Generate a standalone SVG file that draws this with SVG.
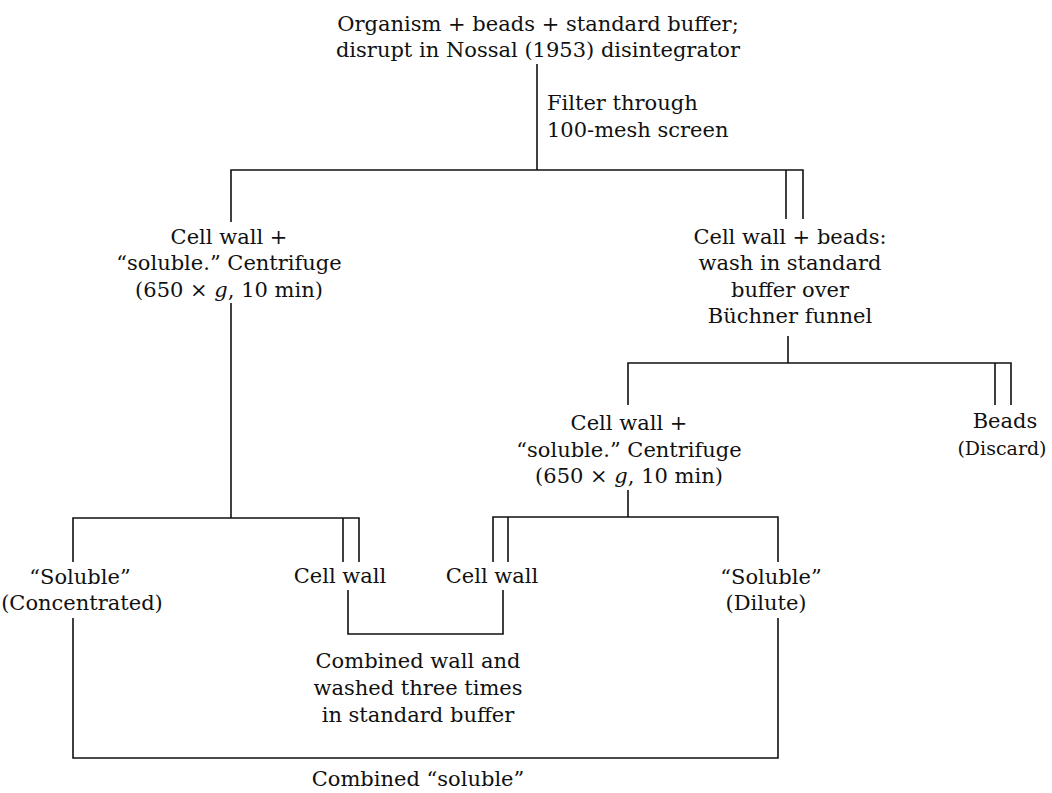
<svg xmlns="http://www.w3.org/2000/svg" width="1052" height="793" viewBox="0 0 1052 793">
<style>
text{font-family:"DejaVu Serif","Liberation Serif",serif;font-size:21px;fill:#111;}
.c{text-anchor:middle;}
.l{text-anchor:start;}
.ln{stroke:#111;stroke-width:1.6;fill:none;}
</style>
<rect width="1052" height="793" fill="#fff"/>
<g id="connectors">
<path class="ln" d="M537,64 V170"/>
<path class="ln" d="M231,222 V170 H803 V219 M786,170 V219"/>
<path class="ln" d="M231,303 V518"/>
<path class="ln" d="M73,562 V518 H359 V562 M343,518 V562"/>
<path class="ln" d="M788,336 V363"/>
<path class="ln" d="M628,405 V363 H1011 V405 M995,363 V405"/>
<path class="ln" d="M628,490 V517"/>
<path class="ln" d="M493,562 V517 H778 V562 M508,517 V562"/>
<path class="ln" d="M348,590 V634 H503 V590"/>
<path class="ln" d="M73,618 V758 H778 V618"/>
</g>
<g id="n-start">
<text class="c" x="538" y="31">Organism + beads + standard buffer;</text>
<text class="c" x="538" y="57">disrupt in Nossal (1953) disintegrator</text>
</g>
<g id="n-filter">
<text class="l" x="547" y="110">Filter through</text>
<text class="l" x="547" y="137">100-mesh screen</text>
</g>
<g id="n-left">
<text class="c" x="229" y="244">Cell wall +</text>
<text class="c" x="229" y="270">“soluble.” Centrifuge</text>
<text class="c" x="229" y="297">(650 × <tspan font-style="italic">g</tspan>, 10 min)</text>
</g>
<g id="n-right">
<text class="c" x="790" y="244">Cell wall + beads:</text>
<text class="c" x="790" y="270">wash in standard</text>
<text class="c" x="790" y="297">buffer over</text>
<text class="c" x="790" y="323">Büchner funnel</text>
</g>
<g id="n-mid">
<text class="c" x="629" y="430">Cell wall +</text>
<text class="c" x="629" y="457">“soluble.” Centrifuge</text>
<text class="c" x="629" y="483">(650 × <tspan font-style="italic">g</tspan>, 10 min)</text>
</g>
<g id="n-beads">
<text class="c" x="1005" y="428">Beads</text>
<text class="c" x="1002" y="455" style="font-size:19px">(Discard)</text>
</g>
<g id="n-sol-conc">
<text class="c" x="80" y="584">“Soluble”</text>
<text class="c" x="82" y="610">(Concentrated)</text>
</g>
<g id="n-wall1">
<text class="c" x="340" y="583">Cell wall</text>
</g>
<g id="n-wall2">
<text class="c" x="492" y="583">Cell wall</text>
</g>
<g id="n-sol-dil">
<text class="c" x="771" y="584">“Soluble”</text>
<text class="c" x="766" y="610">(Dilute)</text>
</g>
<g id="n-combwall">
<text class="c" x="418" y="668">Combined wall and</text>
<text class="c" x="418" y="695">washed three times</text>
<text class="c" x="418" y="722">in standard buffer</text>
</g>
<g id="n-combsol">
<text class="c" x="418" y="786">Combined “soluble”</text>
</g>
</svg>
